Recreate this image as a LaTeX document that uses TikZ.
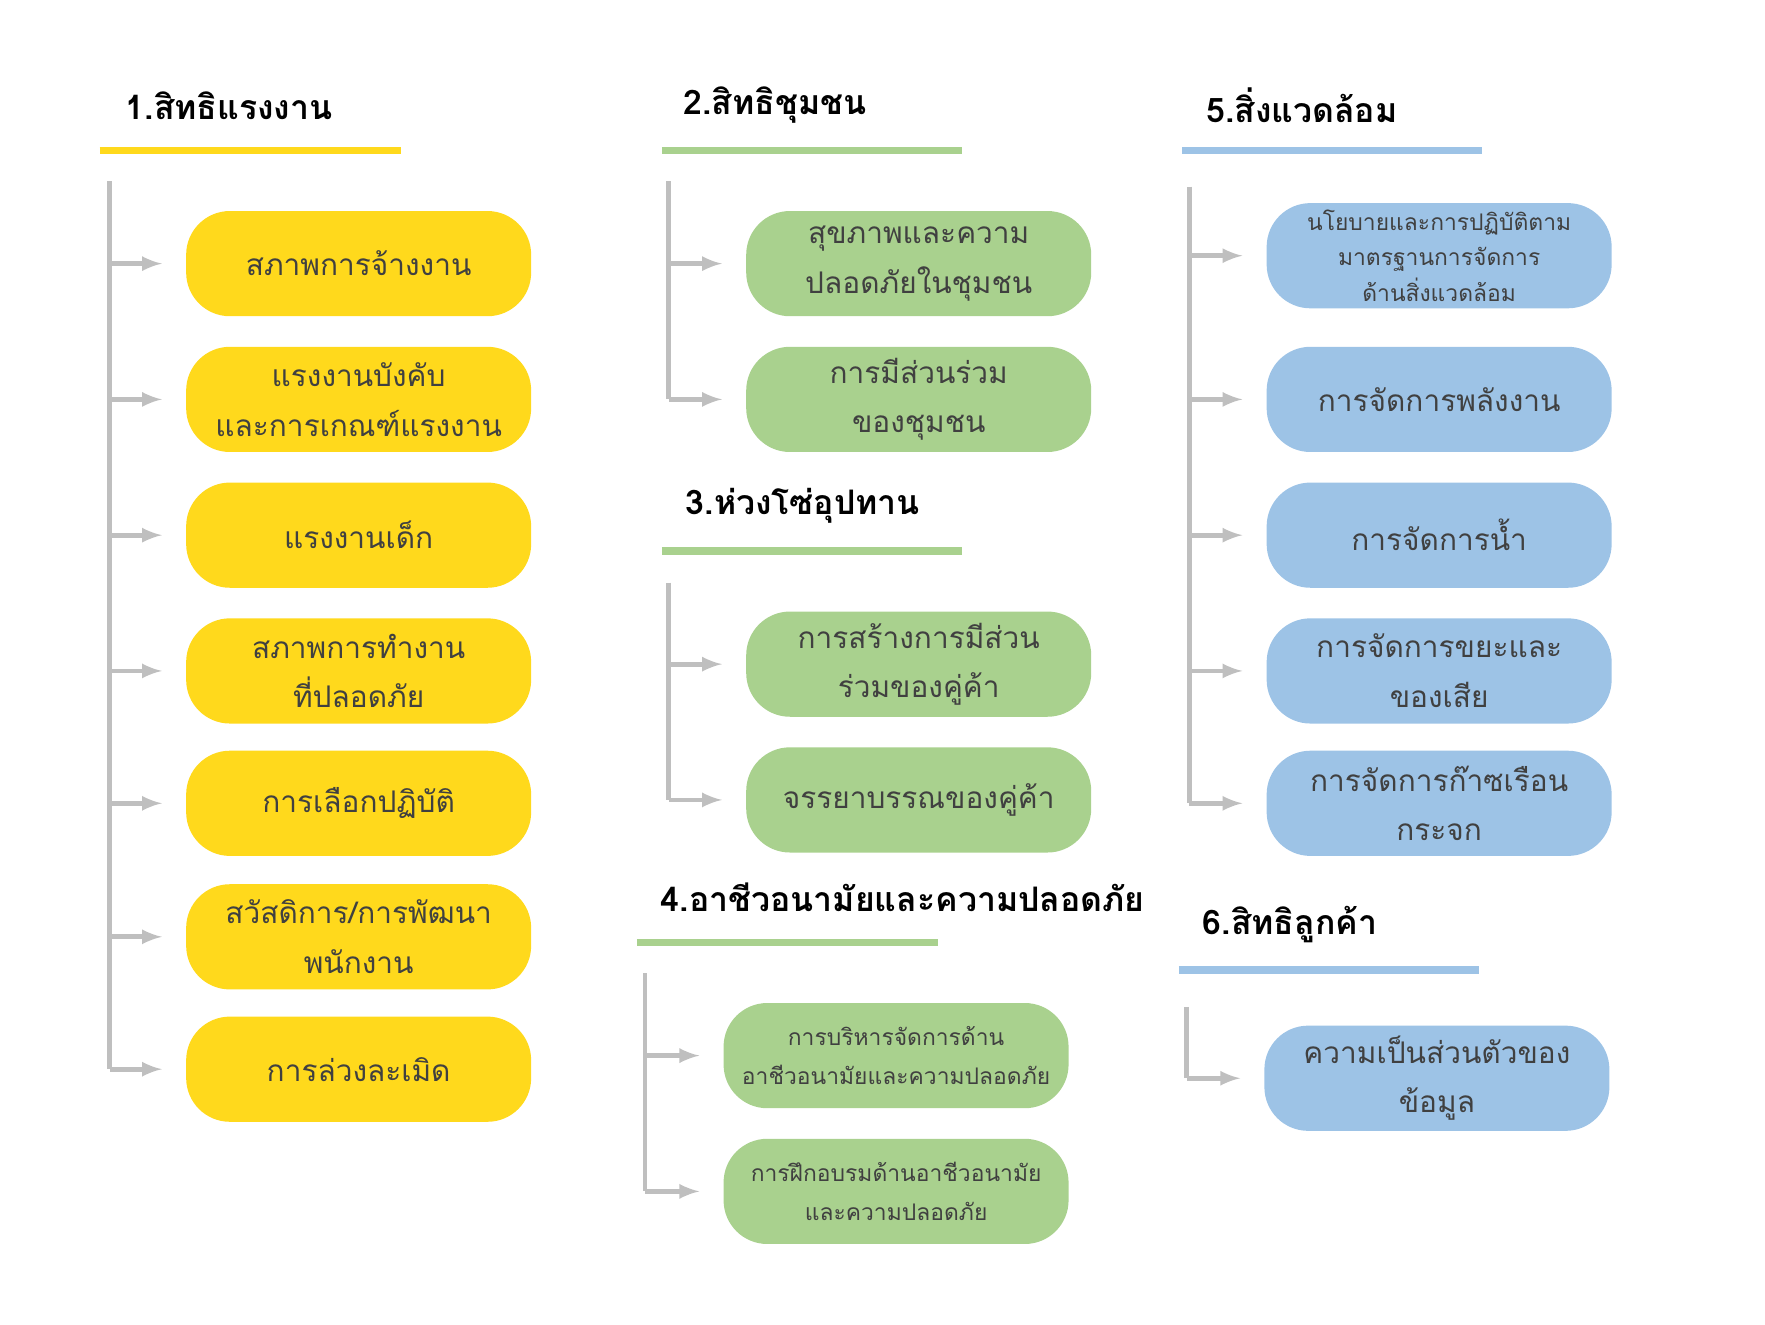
\documentclass[tikz,border=0pt]{standalone}
\usepackage{fontspec}
\newfontfamily\thaifont[Script=Thai]{Loma}
\usetikzlibrary{positioning}
\definecolor{cyellow}{HTML}{FFD91C}
\definecolor{cgreen}{HTML}{A9D18E}
\definecolor{cblue}{HTML}{9DC3E6}
\definecolor{cgray}{HTML}{BFBFBF}
\tikzset{
  topic/.style={font=\thaifont\bfseries\fontsize{17}{20}\selectfont,anchor=west},
  item/.style={rounded corners=22pt,minimum width=6.1cm,minimum height=1.86cm,align=center,
    font=\thaifont\fontsize{15}{25}\selectfont,text=black!75,inner sep=2pt},
  small/.style={font=\thaifont\fontsize{11.5}{20}\selectfont},
  branch/.style={draw=cgray,line width=2.4pt,-latex,shorten >=12pt},
  trunk/.style={draw=cgray,line width=2.4pt},
}
\begin{document}
\begin{tikzpicture}[x=0.02cm,y=-0.02cm]
	\useasboundingbox (0,0) rectangle (1560,1171);
	% 1 แรงงาน
	\node[topic] (h1) at (105,93) {1.สิทธิแรงงาน};
	\draw[cyellow,line width=4pt] (88,133) -- (354,133);
	\coordinate (t1) at (97,160);
	\foreach \y/\n/\t in {233/a/{สภาพการจ้างงาน},353/b/{แรงงานบังคับ\\และการเกณฑ์แรงงาน},473/c/{แรงงานเด็ก},
		593/d/{สภาพการทำงาน\\ที่ปลอดภัย},710/e/{การเลือกปฏิบัติ},828/f/{สวัสดิการ/การพัฒนา\\พนักงาน},945/g/{การล่วงละเมิด}}{
		\node[item,fill=cyellow] (l\n) at (317,\y) {\t};
		\draw[branch] (97,\y) -- (l\n.west);
	}
	\draw[trunk] (t1) -- (97,945);
	% 2 ชุมชน
	\node[topic] (h2) at (598,93) {2.สิทธิชุมชน};
	\draw[cgreen,line width=4pt] (585,133) -- (850,133);
	\coordinate (t2) at (591,160);
	\foreach \y/\n/\t in {233/a/{สุขภาพและความ\\ปลอดภัยในชุมชน},353/b/{การมีส่วนร่วม\\ของชุมชน}}{
		\node[item,fill=cgreen] (c\n) at (812,\y) {\t};
		\draw[branch] (591,\y) -- (c\n.west);
	}
	\draw[trunk] (t2) -- (591,353);
	% 3 ห่วงโซ่อุปทาน
	\node[topic] (h3) at (600,447) {3.ห่วงโซ่อุปทาน};
	\draw[cgreen,line width=4pt] (585,487) -- (850,487);
	\coordinate (t3) at (591,515);
	\foreach \y/\n/\t in {587/a/{การสร้างการมีส่วน\\ร่วมของคู่ค้า},707/b/{จรรยาบรรณของคู่ค้า}}{
		\node[item,fill=cgreen] (s\n) at (812,\y) {\t};
		\draw[branch] (591,\y) -- (s\n.west);
	}
	\draw[trunk] (t3) -- (591,707);
	% 4 อาชีวอนามัย
	\node[topic] (h4) at (578,793) {4.อาชีวอนามัยและความปลอดภัย};
	\draw[cgreen,line width=4pt] (563,833) -- (829,833);
	\coordinate (t4) at (570,860);
	\foreach \y/\n/\t in {933/a/{การบริหารจัดการด้าน\\อาชีวอนามัยและความปลอดภัย},1053/b/{การฝึกอบรมด้านอาชีวอนามัย\\และความปลอดภัย}}{
		\node[item,small,fill=cgreen] (o\n) at (792,\y) {\t};
		\draw[branch] (570,\y) -- (o\n.west);
	}
	\draw[trunk] (t4) -- (570,1053);
	% 5 สิ่งแวดล้อม
	\node[topic] (h5) at (1060,93) {5.สิ่งแวดล้อม};
	\draw[cblue,line width=4pt] (1045,133) -- (1310,133);
	\coordinate (t5) at (1051,165);
	\node[item,small,fill=cblue,font=\thaifont\fontsize{11.5}{18}\selectfont] (ea) at (1272,226) {นโยบายและการปฏิบัติตาม\\มาตรฐานการจัดการ\\ด้านสิ่งแวดล้อม};
	\draw[branch] (1051,226) -- (ea.west);
	\foreach \y/\n/\t in {353/b/{การจัดการพลังงาน},473/c/{การจัดการน้ำ},593/d/{การจัดการขยะและ\\ของเสีย},710/e/{การจัดการก๊าซเรือน\\กระจก}}{
		\node[item,fill=cblue] (e\n) at (1272,\y) {\t};
		\draw[branch] (1051,\y) -- (e\n.west);
	}
	\draw[trunk] (t5) -- (1051,710);
	% 6 ลูกค้า
	\node[topic] (h6) at (1057,817) {6.สิทธิลูกค้า};
	\draw[cblue,line width=4pt] (1042,857) -- (1307,857);
	\coordinate (t6) at (1049,890);
	\node[item,fill=cblue] (ka) at (1270,953) {ความเป็นส่วนตัวของ\\ข้อมูล};
	\draw[trunk] (t6) -- (1049,953);
	\draw[branch] (1049,953) -- (ka.west);
\end{tikzpicture}
\end{document}
